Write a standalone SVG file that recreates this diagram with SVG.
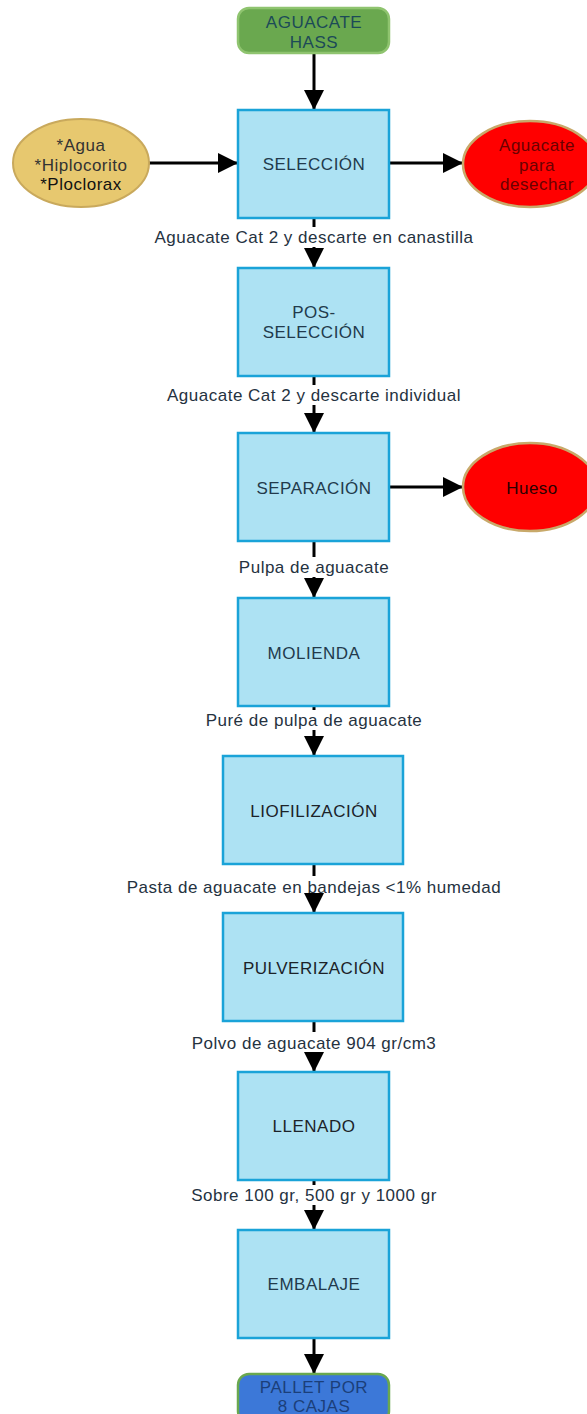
<svg xmlns="http://www.w3.org/2000/svg" width="587" height="1414" viewBox="0 0 587 1414">
<defs>
<marker id="arr" markerUnits="userSpaceOnUse" markerWidth="20" markerHeight="20" refX="20" refY="10" orient="auto">
<path d="M0,0 L20,10 L0,20 z" fill="#000"/>
</marker>
<style>
text{font-family:"Liberation Sans",Arial,sans-serif;font-size:17px;letter-spacing:0.5px;text-anchor:middle;dominant-baseline:central}
.box{fill:#ade2f3;stroke:#1aa3d8;stroke-width:2.5}
.bt{fill:#223a4c}
.lbl{fill:#25323f}
.ln{stroke:#000;stroke-width:3;fill:none}
.term{stroke-width:2.5}
</style>
</defs>
<rect width="587" height="1414" fill="#fff"/>
<g id="connectors">
<line class="ln" x1="314" y1="53" x2="314" y2="110" marker-end="url(#arr)"/>
<line class="ln" x1="149" y1="163" x2="238" y2="163" marker-end="url(#arr)"/>
<line class="ln" x1="389" y1="163" x2="463" y2="163" marker-end="url(#arr)"/>
<line class="ln" x1="389" y1="487" x2="463" y2="487" marker-end="url(#arr)"/>
<line class="ln" x1="314" y1="218" x2="314" y2="227"/>
<line class="ln" x1="314" y1="247" x2="314" y2="268" marker-end="url(#arr)"/>
<text class="lbl" x="314" y="237">Aguacate Cat 2 y descarte en canastilla</text>
<line class="ln" x1="314" y1="376" x2="314" y2="385"/>
<line class="ln" x1="314" y1="405" x2="314" y2="433" marker-end="url(#arr)"/>
<text class="lbl" x="314" y="395">Aguacate Cat 2 y descarte individual</text>
<line class="ln" x1="314" y1="541" x2="314" y2="557"/>
<line class="ln" x1="314" y1="577" x2="314" y2="598" marker-end="url(#arr)"/>
<text class="lbl" x="314" y="567">Pulpa de aguacate</text>
<line class="ln" x1="314" y1="706" x2="314" y2="710"/>
<line class="ln" x1="314" y1="730" x2="314" y2="756" marker-end="url(#arr)"/>
<text class="lbl" x="314" y="720">Puré de pulpa de aguacate</text>
<line class="ln" x1="314" y1="864" x2="314" y2="876"/>
<line class="ln" x1="314" y1="897" x2="314" y2="913" marker-end="url(#arr)"/>
<text class="lbl" x="314" y="887">Pasta de aguacate en bandejas &lt;1% humedad</text>
<line class="ln" x1="314" y1="1021" x2="314" y2="1032"/>
<line class="ln" x1="314" y1="1053" x2="314" y2="1072" marker-end="url(#arr)"/>
<text class="lbl" x="314" y="1043">Polvo de aguacate 904 gr/cm3</text>
<line class="ln" x1="314" y1="1180" x2="314" y2="1185"/>
<line class="ln" x1="314" y1="1205" x2="314" y2="1230" marker-end="url(#arr)"/>
<text class="lbl" x="314" y="1195">Sobre 100 gr, 500 gr y 1000 gr</text>
<line class="ln" x1="314" y1="1338" x2="314" y2="1374" marker-end="url(#arr)"/>
</g>
<g id="inicio">
<rect x="238" y="8" width="151" height="45" rx="11" fill="#6aa84f" stroke="#8fc46f" class="term"/>
<text x="314" y="22" fill="#1c4a57">AGUACATE</text>
<text x="314" y="42" fill="#1c4a57">HASS</text>
</g>
<g id="insumos">
<ellipse cx="81" cy="163" rx="68" ry="44" fill="#e7c86f" stroke="#c9a95c" stroke-width="2"/>
<text x="81" y="145" fill="#333">*Agua</text>
<text x="81" y="165" fill="#333">*Hiplocorito</text>
<text x="81" y="184" fill="#111">*Ploclorax</text>
</g>
<g id="seleccion">
<rect class="box" x="238" y="110" width="151" height="108"/>
<text class="bt" x="314" y="164">SELECCIÓN</text>
</g>
<g id="desecho">
<ellipse cx="530" cy="164" rx="67" ry="43" fill="#ff0000" stroke="#c8a96a" stroke-width="2.5"/>
<text x="537" y="145" fill="#6b0000">Aguacate</text>
<text x="537" y="165" fill="#6b0000">para</text>
<text x="537" y="184" fill="#6b0000">desechar</text>
</g>
<g id="posseleccion">
<rect class="box" x="238" y="268" width="151" height="108"/>
<text class="bt" x="314" y="312">POS-</text>
<text class="bt" x="314" y="332">SELECCIÓN</text>
</g>
<g id="separacion">
<rect class="box" x="238" y="433" width="151" height="108"/>
<text class="bt" x="314" y="488">SEPARACIÓN</text>
</g>
<g id="hueso">
<ellipse cx="530" cy="487" rx="67" ry="44" fill="#ff0000" stroke="#c8a96a" stroke-width="2.5"/>
<text x="532" y="488" fill="#2a0000">Hueso</text>
</g>
<g id="molienda">
<rect class="box" x="238" y="598" width="151" height="108"/>
<text class="bt" x="314" y="653">MOLIENDA</text>
</g>
<g id="liofilizacion">
<rect class="box" x="223" y="756" width="180" height="108"/>
<text class="bt" x="314" y="811" style="fill:#1c2228">LIOFILIZACIÓN</text>
</g>
<g id="pulverizacion">
<rect class="box" x="223" y="913" width="180" height="108"/>
<text class="bt" x="314" y="968" style="fill:#1c2228">PULVERIZACIÓN</text>
</g>
<g id="llenado">
<rect class="box" x="238" y="1072" width="151" height="108"/>
<text class="bt" x="314" y="1126" style="fill:#1c2228">LLENADO</text>
</g>
<g id="embalaje">
<rect class="box" x="238" y="1230" width="151" height="108"/>
<text class="bt" x="314" y="1284">EMBALAJE</text>
</g>
<g id="pallet">
<rect x="238" y="1374" width="151" height="48" rx="11" fill="#3c78d8" stroke="#6aa84f" class="term"/>
<text x="314" y="1387" fill="#1b3f7a">PALLET POR</text>
<text x="314" y="1406" fill="#1b3f7a">8 CAJAS</text>
</g>
</svg>
